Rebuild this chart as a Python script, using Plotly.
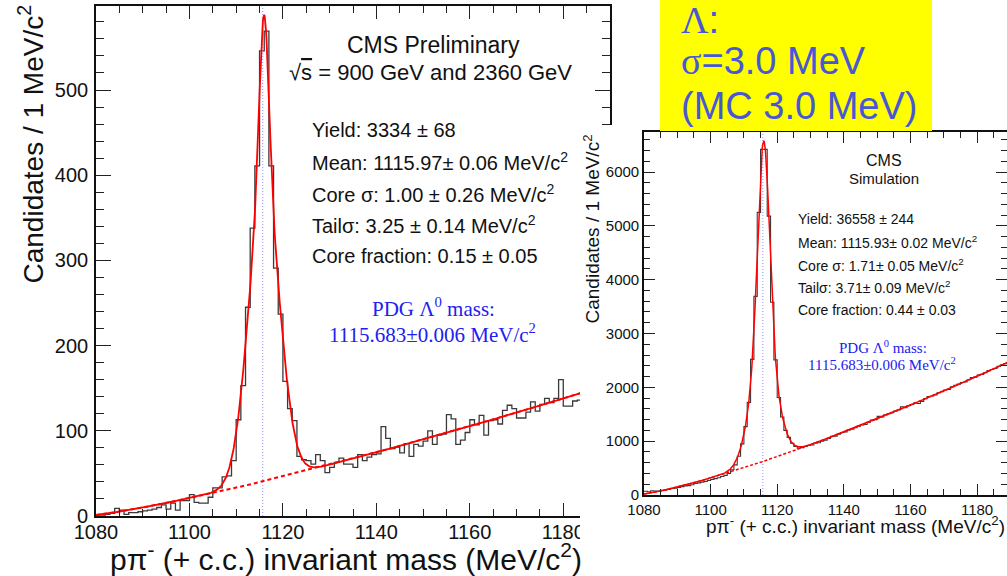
import numpy as np
import plotly.graph_objects as go

W, H = 1007, 576
SANS = "Liberation Sans, Arial, sans-serif"
SERIF = "Liberation Serif, Times New Roman, serif"

# ---------------- data: p pi- candidates per 1 MeV/c^2 bin ----------------
first_bin = 1080  # MeV/c^2, lower edge of the first bin

data_counts = [
    1, 1, 2, 3, 9, 7, 2, 4, 4, 5,            # 1080-1089
    6, 7, 8, 10, 13, 8, 15, 7, 18, 18,       # 1090-1099
    25, 16, 15, 15, 22, 33, 33, 46, 47, 65,  # 1100-1109
    113, 153, 245, 338, 411, 546, 569, 411, 291, 237,  # 1110-1119
    158, 126, 112, 70, 66, 65, 61, 72, 65, 51,         # 1120-1129
    57, 63, 68, 61, 61, 57, 72, 65, 69, 72,            # 1130-1139
    73, 105, 91, 79, 81, 74, 85, 70, 84, 82,           # 1140-1149
    88, 100, 84, 95, 96, 119, 114, 84, 89, 98,         # 1150-1159
    113, 107, 118, 95, 112, 113, 108, 124, 130, 126,   # 1160-1169
    115, 115, 122, 134, 123, 131, 138, 133, 138, 160,  # 1170-1179
    129, 129, 135, 136,                                # 1180-1183
]

mc_counts = [
    70, 60, 80, 75, 70, 85, 95, 105, 120, 125,                 # 1080-1089
    140, 155, 170, 175, 190, 215, 225, 240, 250, 270,          # 1090-1099
    290, 305, 320, 345, 365, 400, 470, 560, 720, 950,          # 1100-1109
    1270, 1720, 2520, 3690, 5250, 6420, 6420, 5180, 3580, 2510,  # 1110-1119
    1810, 1450, 1200, 1070, 960, 900, 870, 880, 900, 920,      # 1120-1129
    930, 960, 970, 1000, 1020, 1050, 1090, 1090, 1130, 1160,   # 1130-1139
    1170, 1210, 1220, 1250, 1280, 1300, 1310, 1350, 1390, 1400,  # 1140-1149
    1460, 1450, 1490, 1510, 1530, 1560, 1580, 1640, 1620, 1660,  # 1150-1159
    1680, 1710, 1700, 1740, 1790, 1830, 1840, 1860, 1900, 1920,  # 1160-1169
    1950, 1960, 2010, 2040, 2060, 2090, 2100, 2140, 2180, 2190,  # 1170-1179
    2230, 2240, 2270, 2310, 2330, 2350, 2390, 2420, 2440,        # 1180-1188
]

# fit results: yield, mean, core sigma, tail sigma, core fraction
data_fit = [3334, 1115.97, 1.00, 3.25, 0.15]
mc_fit = [36558, 1115.93, 1.71, 3.71, 0.44]
# threshold-type background: norm * (m - (m_p + m_pi))^power
data_bkg = [0.4615, 1.232]
mc_bkg = [6.05, 1.275]
threshold = 938.27 + 139.57
pdg_mass = 1115.683


def gauss(m, mu, s):
    return np.exp(-0.5 * ((m - mu) / s) ** 2) / (np.sqrt(2 * np.pi) * s)


def background(m, p):
    return p[0] * np.clip(m - threshold, 0, None) ** p[1]


def total(m, fit, bkg):
    n, mu, s1, s2, f = fit
    return n * (f * gauss(m, mu, s1) + (1 - f) * gauss(m, mu, s2)) + background(m, bkg)


def steps(counts):
    edges = first_bin + np.arange(len(counts) + 1)
    return edges, list(counts) + [counts[-1]]


def px(x):
    return x / W


def py(y):
    return 1 - y / H


mass = np.linspace(1080, 1190, 1101)

fig = go.Figure()

# left panel: data
ex, ey = steps(data_counts)
fig.add_trace(go.Scatter(x=ex, y=ey, mode="lines", line=dict(shape="hv", color="#3a3a3a", width=1.3),
                         xaxis="x", yaxis="y", showlegend=False))
fig.add_trace(go.Scatter(x=[pdg_mass, pdg_mass], y=[0, 600], mode="lines",
                         line=dict(color="#9090ff", width=1, dash="1px,2px"),
                         xaxis="x", yaxis="y", showlegend=False))
fig.add_trace(go.Scatter(x=mass, y=background(mass, data_bkg), mode="lines",
                         line=dict(color="#ff0000", width=2, dash="4px,3px"),
                         xaxis="x", yaxis="y", showlegend=False))
fig.add_trace(go.Scatter(x=mass, y=total(mass, data_fit, data_bkg), mode="lines",
                         line=dict(color="#ff0000", width=1.8),
                         xaxis="x", yaxis="y", showlegend=False))

# blank panel that sits on top of the right part of the data panel
fig.add_trace(go.Scatter(x=[], y=[], xaxis="x2", yaxis="y2", showlegend=False, hoverinfo="skip"))

# right panel: simulation
mx, my = steps(mc_counts)
fig.add_trace(go.Scatter(x=mx, y=my, mode="lines", line=dict(shape="hv", color="#3a3a3a", width=1.1),
                         xaxis="x3", yaxis="y3", showlegend=False))
fig.add_trace(go.Scatter(x=[pdg_mass, pdg_mass], y=[0, 6743], mode="lines",
                         line=dict(color="#9090ff", width=1, dash="1px,2px"),
                         xaxis="x3", yaxis="y3", showlegend=False))
fig.add_trace(go.Scatter(x=mass, y=background(mass, mc_bkg), mode="lines",
                         line=dict(color="#ff0000", width=1.5, dash="3px,2px"),
                         xaxis="x3", yaxis="y3", showlegend=False))
fig.add_trace(go.Scatter(x=mass, y=total(mass, mc_fit, mc_bkg), mode="lines",
                         line=dict(color="#ff0000", width=1.5),
                         xaxis="x3", yaxis="y3", showlegend=False))


def axis(domain, rng, dtick, tick0, minor_dtick, ticklen, minorlen, size, anchor, standoff=0):
    return dict(domain=domain, range=rng, anchor=anchor, tickmode="linear", tick0=tick0, dtick=dtick,
                ticks="inside", ticklen=ticklen, tickwidth=1.3, tickcolor="#222",
                minor=dict(tickmode="linear", tick0=tick0, dtick=minor_dtick, ticks="inside",
                           ticklen=minorlen, tickwidth=1.3, tickcolor="#222"),
                showline=True, linecolor="#111", linewidth=1.6, mirror="ticks",
                showgrid=False, zeroline=False, automargin=False,
                tickfont=dict(family=SANS, size=size, color="#111"),
                ticklabelstandoff=standoff, fixedrange=True)


fig.update_layout(
    width=W, height=H,
    margin=dict(l=0, r=0, t=0, b=0, autoexpand=False),
    paper_bgcolor="white", plot_bgcolor="white",
    xaxis=axis([px(96), px(610)], [1080, 1190], 20, 1080, 5, 13, 7, 20, "y", -3),
    yaxis=axis([py(516), py(6)], [0, 598.6], 100, 0, 20, 15, 8, 20, "x", 2),
    xaxis2=dict(domain=[px(580), 1], range=[0, 1], visible=False, anchor="y2", fixedrange=True,
                automargin=False),
    yaxis2=dict(domain=[0, py(125)], range=[0, 1], visible=False, anchor="x2", fixedrange=True,
                automargin=False),
    xaxis3=axis([px(644), 1], [1080, 1189.0], 20, 1080, 5, 11, 6, 15, "y3"),
    yaxis3=axis([py(495), py(132)], [0, 6743], 1000, 0, 200, 11, 6, 15, "x3"),
    showlegend=False,
)

# yellow note box
fig.add_shape(type="rect", xref="paper", yref="paper", x0=px(660), x1=px(932), y0=py(131), y1=1,
              fillcolor="#ffff00", line=dict(width=0), layer="above")


def label(text, x, y, size, color="#111", family=SANS, xanchor="left", yanchor="middle", angle=0):
    fig.add_annotation(text=text, x=px(x), y=py(y), xref="paper", yref="paper", showarrow=False,
                       font=dict(size=size, color=color, family=family),
                       xanchor=xanchor, yanchor=yanchor, textangle=angle, borderpad=0)


sup2 = "<sup>2</sup>"
# axis titles
label("Candidates / 1 MeV/c" + sup2, 31, 4, 28, xanchor="center", yanchor="top", angle=-90)
label("pπ<sup>-</sup> (+ c.c.) invariant mass (MeV/c" + sup2 + ")", 583, 557, 30, xanchor="right")
label("Candidates / 1 MeV/c" + sup2, 592, 134, 19, xanchor="center", yanchor="top", angle=-90)
label("pπ<sup>-</sup> (+ c.c.) invariant mass (MeV/c" + sup2 + ")", 1006, 525, 19, xanchor="right")

# data panel text
label("CMS Preliminary", 433, 45, 23, xanchor="center")
label("√<span style='text-decoration:overline'>s</span> = 900 GeV and 2360 GeV", 430, 72, 22,
      xanchor="center")
data_lines = [
    "Yield: 3334 ± 68",
    "Mean: 1115.97± 0.06 MeV/c" + sup2,
    "Core σ: 1.00 ± 0.26 MeV/c" + sup2,
    "Tailσ: 3.25 ± 0.14 MeV/c" + sup2,
    "Core fraction: 0.15 ± 0.05",
]
for i, t in enumerate(data_lines):
    label(t, 311, 130 + 31.5 * i, 20)
label("PDG Λ<sup>0</sup> mass:", 433, 307, 21, color="#2020f0", family=SERIF, xanchor="center")
label("1115.683±0.006 MeV/c" + sup2, 432, 333, 21, color="#2020f0", family=SERIF, xanchor="center")

# simulation panel text
label("CMS", 884, 160, 16, xanchor="center")
label("Simulation", 884, 178, 15, xanchor="center")
mc_lines = [
    "Yield: 36558 ± 244",
    "Mean: 1115.93± 0.02 MeV/c" + sup2,
    "Core σ: 1.71± 0.05 MeV/c" + sup2,
    "Tailσ: 3.71± 0.09 MeV/c" + sup2,
    "Core fraction: 0.44 ± 0.03",
]
for i, t in enumerate(mc_lines):
    label(t, 797, 219 + 22.8 * i, 14)
label("PDG Λ<sup>0</sup> mass:", 883, 347, 15, color="#2020f0", family=SERIF, xanchor="center")
label("1115.683±0.006 MeV/c" + sup2, 882, 364, 15, color="#2020f0", family=SERIF, xanchor="center")

# note in the yellow box
note_blue = "#4757d5"
label("<span style='font-family:Liberation Serif'>Λ</span>:", 680, 20, 38, color=note_blue)
label("<span style='font-family:Liberation Serif'>σ</span>=3.0 MeV", 680, 61, 38, color=note_blue)
label("(MC 3.0 MeV)", 680, 106, 38, color=note_blue)

fig.write_html("out.html")
